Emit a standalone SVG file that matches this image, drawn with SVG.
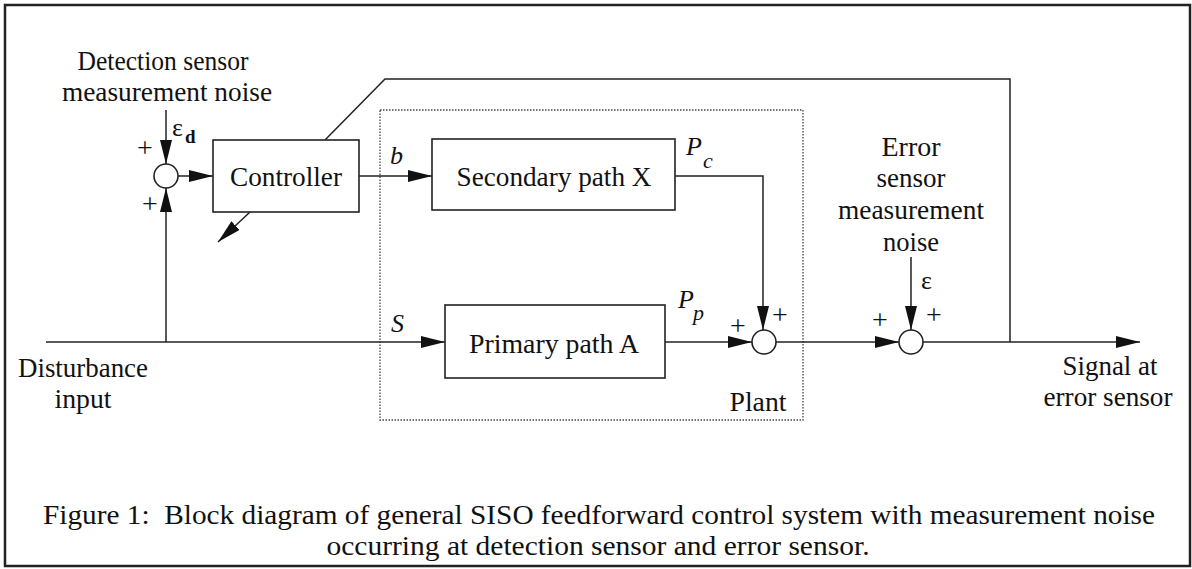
<svg xmlns="http://www.w3.org/2000/svg" width="1192" height="569" viewBox="0 0 1192 569">
<style>
text{font-family:"Liberation Serif","Times New Roman",serif;fill:#111;}
.lbl{font-size:28px;text-anchor:middle;}
.box{fill:#fff;stroke:#222;stroke-width:1.6;}
.sum{fill:#fff;stroke:#222;stroke-width:1.6;}
.ln{fill:none;stroke:#222;stroke-width:1.5;}
.it{font-style:italic;font-size:26px;}
.pm{font-size:28px;text-anchor:middle;fill:#111;}
</style>
<defs>
<marker id="ah" markerUnits="userSpaceOnUse" markerWidth="24" markerHeight="12" refX="24" refY="6" orient="auto">
<path d="M0,0 L24,6 L0,12 z" fill="#111"/>
</marker>
</defs>
<rect x="5" y="5" width="1185" height="561" fill="#fff" stroke="#222" stroke-width="2.5"/>

<g id="plant">
<rect x="380" y="110" width="423" height="310" fill="none" stroke="#444" stroke-width="1.3" stroke-dasharray="1.5,1.5"/>
<text class="lbl" x="758" y="411" textLength="57" lengthAdjust="spacingAndGlyphs">Plant</text>
</g>

<g id="connectors">
<line class="ln" x1="166" y1="110" x2="166" y2="164" marker-end="url(#ah)"/>
<line class="ln" x1="46" y1="342" x2="445" y2="342" marker-end="url(#ah)"/>
<line class="ln" x1="166" y1="342" x2="166" y2="188" marker-end="url(#ah)"/>
<line class="ln" x1="178" y1="176" x2="213" y2="176" marker-end="url(#ah)"/>
<line class="ln" x1="359" y1="176" x2="432" y2="176" marker-end="url(#ah)"/>
<line class="ln" x1="250" y1="212" x2="218" y2="242" marker-end="url(#ah)"/>
<polyline class="ln" points="325,140 385,79 1010,79 1010,342"/>
<polyline class="ln" points="675,176 763,176 763,330" marker-end="url(#ah)"/>
<line class="ln" x1="665" y1="342" x2="752" y2="342" marker-end="url(#ah)"/>
<line class="ln" x1="776" y1="342" x2="899" y2="342" marker-end="url(#ah)"/>
<line class="ln" x1="911" y1="257" x2="911" y2="330" marker-end="url(#ah)"/>
<line class="ln" x1="923" y1="342" x2="1140" y2="342" marker-end="url(#ah)"/>
</g>

<g id="sum1">
<circle class="sum" cx="166" cy="176" r="12"/>
<text class="pm" x="145" y="157">+</text>
<text class="pm" x="150" y="213">+</text>
</g>

<g id="controller">
<rect class="box" x="213" y="140" width="146" height="72"/>
<text class="lbl" x="286" y="186" textLength="112" lengthAdjust="spacingAndGlyphs">Controller</text>
</g>

<g id="secondary">
<rect class="box" x="432" y="139" width="243" height="71"/>
<text class="lbl" x="554" y="186" textLength="195" lengthAdjust="spacingAndGlyphs">Secondary path X</text>
</g>

<g id="primary">
<rect class="box" x="445" y="305" width="220" height="73"/>
<text class="lbl" x="554" y="353" textLength="170" lengthAdjust="spacingAndGlyphs">Primary path A</text>
</g>

<g id="sum2">
<circle class="sum" cx="764" cy="342" r="12"/>
<text class="pm" x="738" y="335">+</text>
<text class="pm" x="780" y="324">+</text>
</g>

<g id="sum3">
<circle class="sum" cx="911" cy="342" r="12"/>
<text class="pm" x="880" y="329">+</text>
<text class="pm" x="934" y="324">+</text>
</g>

<g id="labels">
<text class="lbl" x="163" y="70" textLength="171" lengthAdjust="spacingAndGlyphs">Detection sensor</text>
<text class="lbl" x="167" y="101" textLength="210" lengthAdjust="spacingAndGlyphs">measurement noise</text>
<text x="172" y="136" style="font-size:26px">ε</text>
<text x="185" y="143" style="font-size:19px;font-weight:bold">d</text>
<text class="it" x="390" y="164">b</text>
<text class="it" x="686" y="155">P</text>
<text class="it" x="703" y="168" style="font-size:22px">c</text>
<text class="it" x="678" y="308">P</text>
<text class="it" x="693" y="320" style="font-size:22px">p</text>
<text class="it" x="391" y="332">S</text>
<text class="lbl" x="911" y="156" textLength="59" lengthAdjust="spacingAndGlyphs">Error</text>
<text class="lbl" x="911" y="187" textLength="69" lengthAdjust="spacingAndGlyphs">sensor</text>
<text class="lbl" x="911" y="219" textLength="146" lengthAdjust="spacingAndGlyphs">measurement</text>
<text class="lbl" x="911" y="251" textLength="56" lengthAdjust="spacingAndGlyphs">noise</text>
<text x="921" y="289" style="font-size:26px">ε</text>
<text class="lbl" x="83" y="377" textLength="130" lengthAdjust="spacingAndGlyphs">Disturbance</text>
<text class="lbl" x="83" y="408" textLength="57" lengthAdjust="spacingAndGlyphs">input</text>
<text class="lbl" x="1110" y="375" textLength="95" lengthAdjust="spacingAndGlyphs">Signal at</text>
<text class="lbl" x="1108" y="406" textLength="129" lengthAdjust="spacingAndGlyphs">error sensor</text>
</g>

<g id="caption">
<text class="lbl" x="599" y="524" xml:space="preserve" textLength="1112" lengthAdjust="spacingAndGlyphs">Figure 1:  Block diagram of general SISO feedforward control system with measurement noise</text>
<text class="lbl" x="598" y="555" textLength="543" lengthAdjust="spacingAndGlyphs">occurring at detection sensor and error sensor.</text>
</g>
</svg>
